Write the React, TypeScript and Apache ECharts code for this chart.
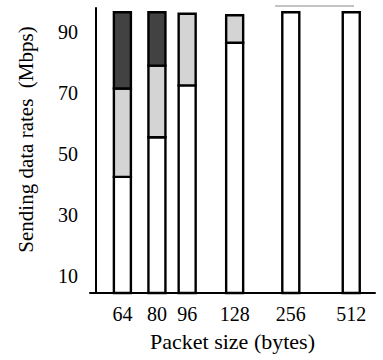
import React, { useEffect, useRef } from "react";
import * as echarts from "echarts";

// ---- data ----
const categories = ["64", "80", "96", "128", "256", "512"];
const whiteVals = [42.5, 55.5, 72.5, 86.5, 96.5, 96.5];
const lightVals = [29, 23.5, 23.5, 9, 0, 0];
const darkVals = [25, 17.5, 0, 0, 0, 0];
const yTicks = [10, 30, 50, 70, 90];

// ---- layout (uneven spacing of the original figure) ----
const SLOTS = [7, 15, 22, 33, 46, 60];
const N_SLOTS = 66;
const BAR_W = 17;
const FILLS = ["#ffffff", "#d4d4d4", "#424242"];
const Y_MIN = 4.4;
const Y_MAX = 97.9;

const FONT = "Liberation Serif";

export default function App() {
  const ref = useRef<HTMLDivElement>(null);
  useEffect(() => {
    if (!ref.current) return;
    const chart = echarts.init(ref.current, undefined, { renderer: "svg" });
    const xCats: string[] = new Array(N_SLOTS).fill("");
    SLOTS.forEach((s, i) => (xCats[s] = categories[i]));
    const seriesData = categories.map((_, i) => [
      SLOTS[i],
      whiteVals[i],
      lightVals[i],
      darkVals[i],
    ]);

    const renderItem = (params: any, api: any) => {
      const idx = api.value(0);
      const segs = [api.value(1), api.value(2), api.value(3)];
      const children: any[] = [];
      let cum = 0;
      const xc = api.coord([idx, Y_MIN])[0];
      segs.forEach((v: number, k: number) => {
        if (!v) return;
        const yLow = api.coord([idx, Math.max(cum, Y_MIN)])[1];
        const yHigh = api.coord([idx, cum + v])[1];
        cum += v;
        children.push({
          type: "rect",
          shape: { x: xc - BAR_W / 2, y: yHigh, width: BAR_W, height: yLow - yHigh },
          style: { fill: FILLS[k], stroke: "#000", lineWidth: 2.4 },
        });
      });
      return { type: "group", children };
    };

    chart.setOption({
      animation: false,
      backgroundColor: "#fff",
      grid: {
        left: 90,
        right: 8,
        top: 8,
        bottom: 67,
        containLabel: false,
        outerBoundsMode: "none",
      },
      xAxis: {
        type: "category",
        data: xCats,
        boundaryGap: true,
        name: "Packet size (bytes)",
        nameLocation: "middle",
        nameGap: 37,
        nameTextStyle: { fontFamily: FONT, fontSize: 22, color: "#000" },
        axisLine: { lineStyle: { color: "#000", width: 2 } },
        axisTick: { show: false },
        axisLabel: {
          interval: 0,
          margin: 11,
          fontFamily: FONT,
          fontSize: 20,
          color: "#000",
        },
        splitLine: { show: false },
      },
      yAxis: {
        type: "value",
        min: Y_MIN,
        max: Y_MAX,
        offset: -6,
        name: "Sending data rates  (Mbps)",
        nameLocation: "middle",
        nameGap: 60,
        nameTextStyle: {
          fontFamily: FONT,
          fontSize: 21,
          color: "#000",
          padding: [0, 0, 0, 22],
        },
        axisLine: { show: true, lineStyle: { color: "#000", width: 2 } },
        axisTick: { show: false },
        splitLine: { show: false },
        axisLabel: {
          customValues: yTicks,
          margin: 18,
          fontFamily: FONT,
          fontSize: 20,
          color: "#000",
        },
      },
      series: [
        {
          type: "custom",
          renderItem,
          encode: { x: 0, y: [1] },
          data: seriesData,
          clip: false,
        },
      ],
      graphic: [
        {
          type: "line",
          shape: { x1: 275, y1: 6, x2: 354, y2: 6 },
          style: { stroke: "#888", lineWidth: 1 },
        },
      ],
    });
    return () => chart.dispose();
  }, []);
  return (
    <div
      ref={ref}
      style={{ position: "absolute", left: 0, top: 0, width: 383, height: 360 }}
    />
  );
}
